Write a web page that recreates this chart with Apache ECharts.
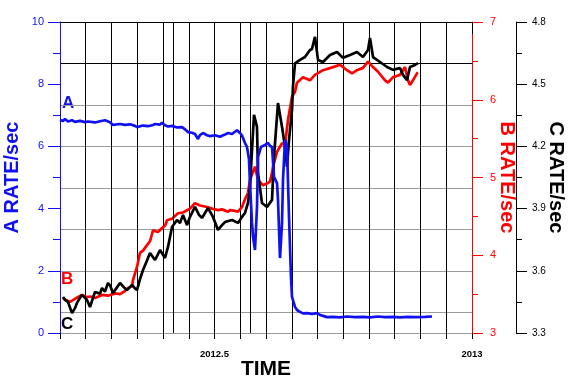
<!DOCTYPE html>
<html>
<head>
<meta charset="utf-8">
<script src="https://cdn.jsdelivr.net/npm/echarts@6/dist/echarts.min.js"></script>
<style>html,body{margin:0;padding:0;background:#fff;}#c{width:570px;height:382px;}</style>
</head>
<body>
<div id="c"></div>
<script>
// Time axis (decimal years)
var timeMin = 2012.2, timeMax = 2013.0;
var timeLabels = [2012.5, 2013];
var eventTimes = [2012.4205, 2012.5698];

// Series A (left axis, counts/sec)
var seriesA = [
[2012.2000,6.85],[2012.2058,6.82],[2012.2097,6.88],[2012.2155,6.80],[2012.2233,6.84],[2012.2291,6.79],[2012.2388,6.82],[2012.2485,6.78],[2012.2544,6.80],[2012.2680,6.77],[2012.2777,6.81],[2012.2874,6.84],[2012.2971,6.78],[2012.3029,6.69],[2012.3165,6.72],[2012.3262,6.69],[2012.3359,6.71],[2012.3456,6.66],[2012.3495,6.62],[2012.3612,6.67],[2012.3709,6.65],[2012.3806,6.69],[2012.3845,6.72],[2012.3942,6.70],[2012.3981,6.76],[2012.4039,6.68],[2012.4097,6.64],[2012.4175,6.66],[2012.4272,6.61],[2012.4369,6.62],[2012.4427,6.55],[2012.4485,6.46],[2012.4563,6.44],[2012.4621,6.40],[2012.4680,6.24],[2012.4718,6.36],[2012.4777,6.43],[2012.4854,6.36],[2012.4913,6.33],[2012.5010,6.36],[2012.5107,6.31],[2012.5146,6.34],[2012.5204,6.38],[2012.5262,6.43],[2012.5340,6.40],[2012.5437,6.52],[2012.5495,6.43],[2012.5534,6.35],[2012.5592,6.11],[2012.5631,5.98],[2012.5650,5.95],[2012.5669,5.60],[2012.5689,4.82],[2012.5728,3.54],[2012.5748,3.09],[2012.5786,2.67],[2012.5825,4.05],[2012.5845,5.66],[2012.5903,5.98],[2012.5981,6.05],[2012.6039,6.11],[2012.6078,6.02],[2012.6117,5.98],[2012.6155,5.02],[2012.6214,4.82],[2012.6233,4.28],[2012.6272,2.41],[2012.6311,3.54],[2012.6330,4.92],[2012.6369,6.21],[2012.6408,5.98],[2012.6447,3.73],[2012.6485,1.80],[2012.6505,1.16],[2012.6563,0.84],[2012.6602,0.74],[2012.6660,0.68],[2012.6718,0.63],[2012.6796,0.64],[2012.6893,0.61],[2012.6990,0.64],[2012.7049,0.58],[2012.7107,0.55],[2012.7184,0.51],[2012.7301,0.52],[2012.7437,0.50],[2012.7573,0.53],[2012.7728,0.51],[2012.7883,0.52],[2012.8019,0.50],[2012.8175,0.53],[2012.8311,0.51],[2012.8466,0.52],[2012.8602,0.50],[2012.8757,0.52],[2012.8893,0.51],[2012.9087,0.52],[2012.9223,0.53]
];

// Series B (red axis)
var seriesB = [
[2012.2058,3.45],[2012.2097,3.43],[2012.2194,3.40],[2012.2291,3.44],[2012.2427,3.49],[2012.2524,3.46],[2012.2583,3.47],[2012.2680,3.45],[2012.2816,3.49],[2012.2932,3.48],[2012.3068,3.51],[2012.3165,3.50],[2012.3262,3.54],[2012.3320,3.58],[2012.3398,3.60],[2012.3417,3.68],[2012.3495,3.85],[2012.3553,4.03],[2012.3612,4.06],[2012.3689,4.13],[2012.3748,4.18],[2012.3806,4.32],[2012.3903,4.30],[2012.3981,4.35],[2012.4039,4.38],[2012.4078,4.45],[2012.4175,4.47],[2012.4291,4.54],[2012.4388,4.55],[2012.4524,4.60],[2012.4621,4.67],[2012.4718,4.64],[2012.4854,4.62],[2012.4951,4.60],[2012.5068,4.58],[2012.5146,4.59],[2012.5262,4.56],[2012.5301,4.58],[2012.5398,4.57],[2012.5456,4.56],[2012.5534,4.62],[2012.5592,4.72],[2012.5650,4.80],[2012.5689,4.97],[2012.5786,5.14],[2012.5845,4.97],[2012.5942,4.90],[2012.6039,4.93],[2012.6078,4.95],[2012.6117,5.06],[2012.6136,5.14],[2012.6214,5.33],[2012.6311,5.44],[2012.6369,5.42],[2012.6427,5.74],[2012.6505,6.04],[2012.6563,6.10],[2012.6602,6.22],[2012.6718,6.29],[2012.6854,6.25],[2012.6951,6.32],[2012.7107,6.38],[2012.7301,6.42],[2012.7437,6.45],[2012.7573,6.38],[2012.7670,6.34],[2012.7767,6.38],[2012.7883,6.41],[2012.7981,6.49],[2012.8078,6.42],[2012.8175,6.36],[2012.8311,6.25],[2012.8369,6.22],[2012.8466,6.29],[2012.8602,6.32],[2012.8699,6.42],[2012.8757,6.25],[2012.8796,6.19],[2012.8854,6.25],[2012.8932,6.34],[2012.8951,6.35]
];

// Series C (black axis)
var seriesC = [
[2012.2058,3.474],[2012.2097,3.46],[2012.2155,3.45],[2012.2233,3.396],[2012.2291,3.42],[2012.2330,3.445],[2012.2388,3.47],[2012.2427,3.483],[2012.2485,3.47],[2012.2524,3.459],[2012.2583,3.425],[2012.2641,3.47],[2012.2680,3.498],[2012.2777,3.49],[2012.2816,3.517],[2012.2874,3.50],[2012.2932,3.541],[2012.2971,3.53],[2012.3029,3.493],[2012.3107,3.52],[2012.3165,3.541],[2012.3243,3.52],[2012.3301,3.507],[2012.3398,3.532],[2012.3456,3.515],[2012.3495,3.507],[2012.3553,3.56],[2012.3612,3.604],[2012.3689,3.65],[2012.3748,3.686],[2012.3845,3.652],[2012.3942,3.70],[2012.4039,3.662],[2012.4097,3.715],[2012.4175,3.811],[2012.4272,3.845],[2012.4330,3.83],[2012.4388,3.869],[2012.4466,3.821],[2012.4524,3.86],[2012.4621,3.908],[2012.4699,3.87],[2012.4757,3.855],[2012.4874,3.903],[2012.4971,3.86],[2012.5068,3.797],[2012.5146,3.82],[2012.5204,3.835],[2012.5340,3.845],[2012.5456,3.831],[2012.5534,3.86],[2012.5592,3.879],[2012.5650,3.927],[2012.5689,4.00],[2012.5728,4.183],[2012.5767,4.352],[2012.5825,4.294],[2012.5845,4.072],[2012.5922,3.927],[2012.6019,3.908],[2012.6117,3.942],[2012.6155,4.149],[2012.6233,4.409],[2012.6311,4.294],[2012.6369,4.197],[2012.6408,4.101],[2012.6447,4.231],[2012.6505,4.376],[2012.6524,4.49],[2012.6563,4.60],[2012.6660,4.617],[2012.6757,4.631],[2012.6854,4.665],[2012.6893,4.67],[2012.6951,4.728],[2012.7010,4.617],[2012.7107,4.607],[2012.7243,4.641],[2012.7379,4.655],[2012.7495,4.627],[2012.7631,4.641],[2012.7767,4.655],[2012.7883,4.631],[2012.7981,4.665],[2012.8019,4.723],[2012.8078,4.631],[2012.8214,4.607],[2012.8350,4.583],[2012.8466,4.569],[2012.8602,4.578],[2012.8660,4.545],[2012.8738,4.520],[2012.8796,4.583],[2012.8893,4.593],[2012.8951,4.602]
];

var chart = echarts.init(document.getElementById('c'), null, {renderer: 'canvas'});
var FONT = 'Liberation Sans, Arial, sans-serif';
var BLUE = '#1010f0', RED = '#ff0000', BLACK = '#000000', GRAY = '#9a9a9a';

function near(v, arr) { for (var i = 0; i < arr.length; i++) if (Math.abs(v - arr[i]) < 1e-6) return true; return false; }

var option = {
  animation: false,
  backgroundColor: '#ffffff',
  grid: {left: 60, right: 98, top: 22, bottom: 49, containLabel: false, outerBoundsMode: 'none'},
  xAxis: [{
    type: 'value', min: timeMin, max: timeMax, interval: 0.05,
    name: 'TIME', nameLocation: 'middle', nameGap: 26, nameMoveOverlap: false,
    nameTextStyle: {fontFamily: FONT, fontSize: 21, fontWeight: 'bold', color: '#000'},
    axisLine: {lineStyle: {color: GRAY, width: 1}},
    axisTick: {length: 6, lineStyle: {color: '#000'}},
    axisLabel: {show: false},
    splitLine: {show: true, lineStyle: {color: '#000', width: 1}}
  }, {
    type: 'value', min: timeMin, max: timeMax, position: 'bottom',
    axisLine: {show: false},
    axisTick: {show: true, customValues: timeLabels, length: 12, lineStyle: {color: '#000'}},
    axisLabel: {show: true, customValues: timeLabels, margin: 16, color: '#000', fontFamily: FONT, fontSize: 9.5, fontWeight: 'bold',
      formatter: function (v) { return near(v, timeLabels) ? String(Math.round(v * 10) / 10) : ''; }},
    splitLine: {show: false}
  }, {
    type: 'value', min: timeMin, max: timeMax, position: 'top',
    axisLine: {show: true, lineStyle: {color: '#000'}}, axisTick: {show: false}, axisLabel: {show: false}, splitLine: {show: false}
  }],
  yAxis: [{
    type: 'value', min: 0, max: 10, interval: 2, position: 'left',
    name: 'A RATE/sec', nameLocation: 'middle', nameGap: 38, nameRotate: 90, nameMoveOverlap: false,
    nameTextStyle: {fontFamily: FONT, fontSize: 20, fontWeight: 'bold', color: BLUE},
    axisLine: {show: true, lineStyle: {color: BLUE}},
    axisTick: {show: true, length: 12, lineStyle: {color: BLUE}},
    minorTick: {show: true, splitNumber: 2, length: 7, lineStyle: {color: BLUE}},
    axisLabel: {margin: 16, color: BLUE, fontFamily: FONT, fontSize: 11},
    splitLine: {show: false}, minorSplitLine: {show: false}
  }, {
    type: 'value', min: 3, max: 7, interval: 1, position: 'right',
    name: 'B RATE/sec', nameLocation: 'middle', nameGap: 25, nameRotate: -90, nameMoveOverlap: false,
    nameTextStyle: {fontFamily: FONT, fontSize: 20, fontWeight: 'bold', color: RED},
    axisLine: {show: true, lineStyle: {color: RED}},
    axisTick: {show: true, length: 11, lineStyle: {color: RED}},
    minorTick: {show: true, splitNumber: 2, length: 6, lineStyle: {color: RED}},
    axisLabel: {margin: 18, color: RED, fontFamily: FONT, fontSize: 11},
    splitLine: {show: false}
  }, {
    type: 'value', min: 3.3, max: 4.8, interval: 0.3, position: 'right', offset: 44,
    name: 'C RATE/sec', nameLocation: 'middle', nameGap: 30, nameRotate: -90, nameMoveOverlap: false,
    nameTextStyle: {fontFamily: FONT, fontSize: 20, fontWeight: 'bold', color: BLACK},
    axisLine: {show: true, lineStyle: {color: BLACK}},
    axisTick: {show: true, length: 11, lineStyle: {color: BLACK}},
    minorTick: {show: true, splitNumber: 2, length: 6, lineStyle: {color: BLACK}},
    axisLabel: {margin: 16, color: BLACK, fontFamily: FONT, fontSize: 10,
      formatter: function (v) { return v.toFixed(1); }},
    splitLine: {show: false}
  }, {
    // hidden axis for horizontal grid lines (C = 4.6, 4.4, ... 3.4)
    type: 'value', min: 0, max: 1.5, interval: 0.2, inverse: true, position: 'left',
    axisLine: {show: false}, axisTick: {show: false}, axisLabel: {show: false},
    splitLine: {show: true, lineStyle: {color: ['#000', '#000', GRAY, GRAY, GRAY, GRAY, GRAY, GRAY], width: 1}}
  }],
  series: [{
    name: 'B', type: 'line', xAxisIndex: 0, yAxisIndex: 1, data: seriesB, showSymbol: false, symbol: 'none',
    lineStyle: {color: RED, width: 2.7}, z: 3
  }, {
    name: 'C', type: 'line', xAxisIndex: 0, yAxisIndex: 2, data: seriesC, showSymbol: false, symbol: 'none',
    lineStyle: {color: BLACK, width: 2.7}, z: 4,
    markLine: {silent: true, symbol: ['none', 'none'], label: {show: false},
      lineStyle: {color: '#000', width: 1, type: 'solid'},
      data: eventTimes.map(function (t) { return {xAxis: t}; })}
  }, {
    name: 'A', type: 'line', xAxisIndex: 0, yAxisIndex: 0, data: seriesA, showSymbol: false, symbol: 'none',
    lineStyle: {color: BLUE, width: 2.7}, z: 5
  }],
  graphic: [
    {type: 'text', left: 62, top: 95, style: {text: 'A', fill: BLUE, font: 'bold 17px ' + FONT}},
    {type: 'text', left: 61, top: 271, style: {text: 'B', fill: RED, font: 'bold 17px ' + FONT}},
    {type: 'text', left: 61, top: 316, style: {text: 'C', fill: BLACK, font: 'bold 17px ' + FONT}}
  ]
};
chart.setOption(option);
</script>
</body>
</html>
